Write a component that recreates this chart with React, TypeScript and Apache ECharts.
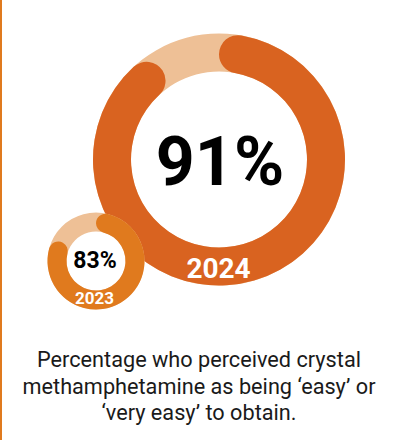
import React, { useEffect, useRef } from "react";
import * as echarts from "echarts";

const years = ["2024", "2023"];
const values = [91, 83];
const captionLines = [
  "Percentage who perceived crystal",
  "methamphetamine as being ‘easy’ or",
  "‘very easy’ to obtain.",
];

const FONT = "Roboto, 'Noto Sans', sans-serif";

export default function App() {
  const ref = useRef<HTMLDivElement>(null);
  useEffect(() => {
    if (!ref.current) return;
    const chart = echarts.init(ref.current, null, { renderer: "svg" });

    const rings = [
      { center: [219, 159.5], radius: [88, 126], color: "#D96320", z: 2 },
      { center: [96, 261], radius: [29.5, 48.5], color: "#E07A1E", z: 4 },
    ];
    const light = "#EEC096";

    const series: any[] = [];
    rings.forEach((r, i) => {
      const common = {
        type: "pie",
        center: r.center,
        radius: r.radius,
        startAngle: 90,
        clockwise: true,
        silent: true,
        label: { show: false },
        labelLine: { show: false },
        emphasis: { disabled: true },
        animation: false,
      };
      series.push({
        ...common,
        z: r.z,
        itemStyle: { borderWidth: 0 },
        data: [{ value: 100, itemStyle: { color: light } }],
      });
      series.push({
        ...common,
        z: r.z + 1,
        itemStyle: { borderWidth: 0, borderRadius: (r.radius[1] - r.radius[0]) / 2 },
        data: [
          { value: values[i], itemStyle: { color: r.color } },
          { value: 100 - values[i], itemStyle: { color: "rgba(0,0,0,0)" } },
        ],
      });
    });

    const textEl = (text: string, x: number, y: number, size: number, weight: any, color: string) => ({
      type: "text",
      x,
      y,
      z: 100,
      silent: true,
      style: {
        text,
        fill: color,
        font: `${weight} ${size}px ${FONT}`,
        textAlign: "center",
        textVerticalAlign: "middle",
      },
    });

    const graphic: any[] = [
      {
        type: "rect",
        shape: { x: 0, y: 0, width: 2, height: 440 },
        style: { fill: "#E07A1E" },
        silent: true,
      },
      textEl(`${values[0]}%`, 220, 161.5, 68, "bold", "#000"),
      textEl(years[0], 218.5, 268.8, 28, "bold", "#fff"),
      textEl(`${values[1]}%`, 95, 260.8, 23, "bold", "#000"),
      textEl(years[1], 94.5, 297.5, 17, "bold", "#fff"),
      ...captionLines.map((l, i) => textEl(l, 199, 359.3 + i * 26.7, 21.7, "normal", "#1a1a1a")),
    ];

    chart.setOption({
      animation: false,
      series,
      graphic: { elements: graphic },
    });
    return () => chart.dispose();
  }, []);
  return (
    <div
      ref={ref}
      style={{ position: "fixed", left: 0, top: 0, width: 393, height: 440, background: "#fff" }}
    />
  );
}
